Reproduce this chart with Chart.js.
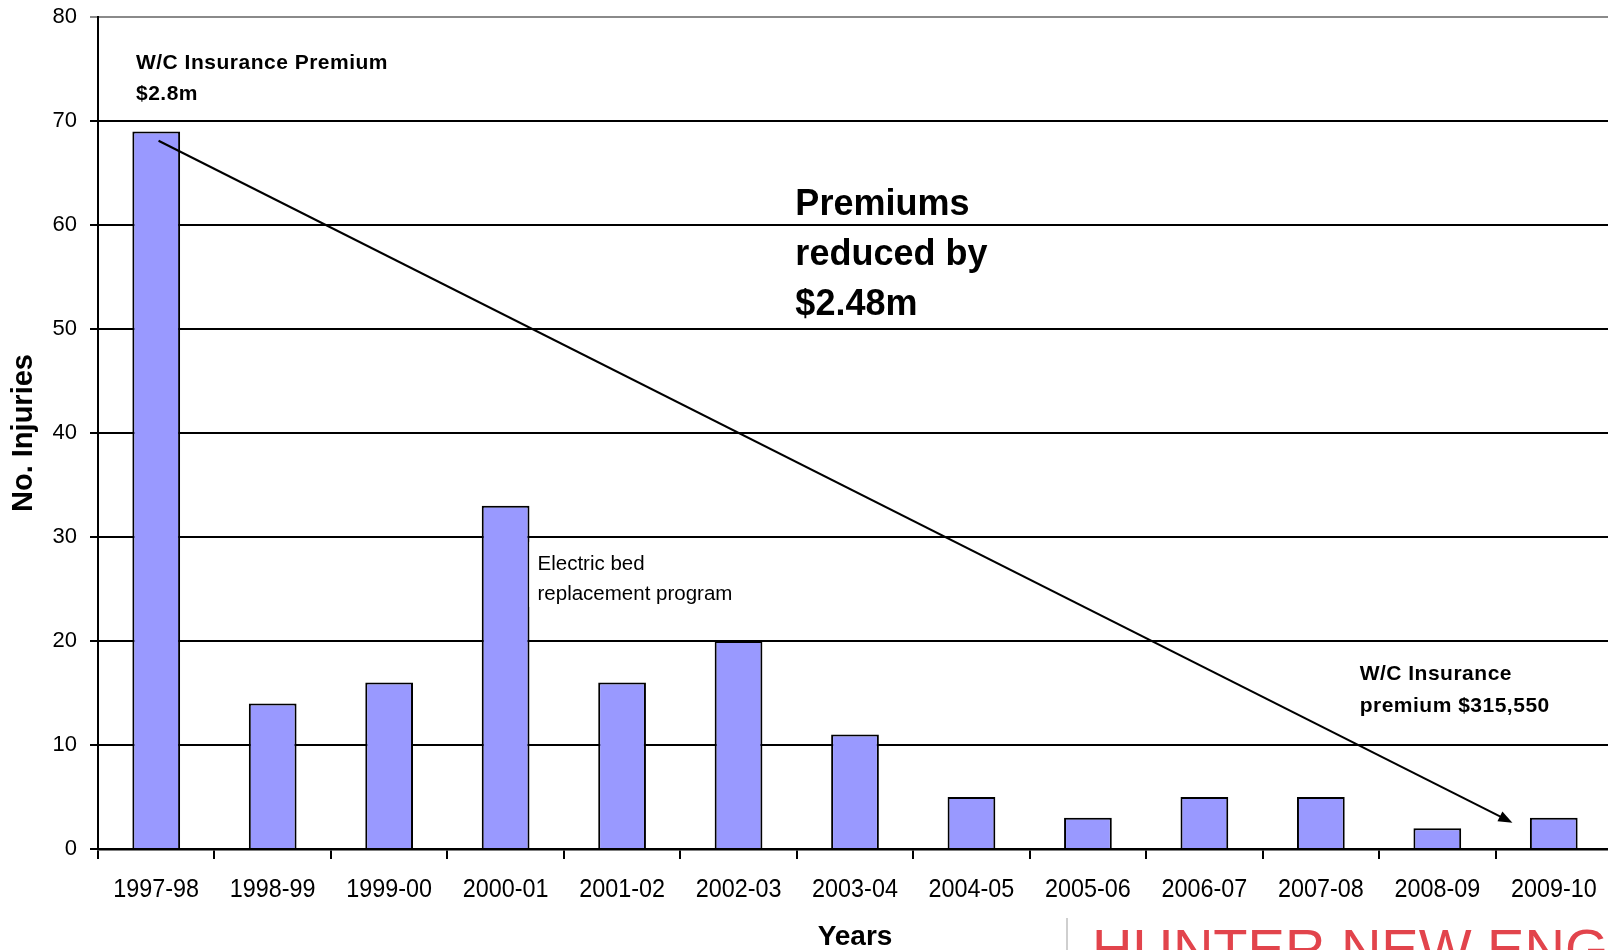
<!DOCTYPE html>
<html><head><meta charset="utf-8">
<script src="https://cdn.jsdelivr.net/npm/chart.js@4.4.1/dist/chart.umd.min.js"></script>
<style>
html,body{margin:0;padding:0;overflow:hidden;background:#fff;width:1608px;height:950px;}
#wrap{position:absolute;left:0;top:0;width:1612px;height:950px;}
#logo{position:absolute;left:1092px;top:921px;font:56px/56px "Liberation Sans",Arial,sans-serif;color:#e2444c;white-space:nowrap;}
#logoBar{position:absolute;left:1066px;top:918px;width:2px;height:40px;background:#cfcfcf;}
</style></head><body>
<div id="wrap"><canvas id="c"></canvas></div>
<div id="logoBar"></div><div id="logo">HUNTER NEW ENGLAND</div>
<script>
// ---- data ----
const years = ["1997-98","1998-99","1999-00","2000-01","2001-02","2002-03","2003-04","2004-05","2005-06","2006-07","2007-08","2008-09","2009-10"];
const injuries = [69,14,16,33,16,20,11,5,3,5,5,2,3];
const yMin = 0, yMax = 80, yStep = 10;
const xTitle = "Years";
const yTitle = "No. Injuries";
const noteStart = ["W/C Insurance Premium", "$2.8m"];
const noteMiddle = ["Premiums", "reduced by", "$2.48m"];
const noteBed = ["Electric bed", "replacement program"];
const noteEnd = ["W/C Insurance", "premium $315,550"];
// arrow endpoints in data units: [category index, value]
const arrowFrom = [0.02, 68.1];
const arrowTo = [11.645, 2.53];

// ---- styling / layout ----
const FAM = '"Liberation Sans", Arial, sans-serif';

const notes = [
  {lines: noteStart, x: -0.174, y: 75.0, font: 'bold 21px ' + FAM, ls: '0.5px', lh: 31},
  {lines: noteMiddle, x: 5.488, y: 60.96, font: 'bold 36px ' + FAM, ls: '0px', lh: 50},
  {lines: noteBed, x: 3.274, y: 26.83, font: '20.5px ' + FAM, ls: '0px', lh: 30, bg: true},
  {lines: noteEnd, x: 10.333, y: 16.25, font: 'bold 21px ' + FAM, ls: '0.5px', lh: 32}
];

const annot = {
  id: 'annot',
  afterDatasetsDraw(chart){
    const ctx = chart.ctx, xs = chart.scales.x, ys = chart.scales.y;
    ctx.save();
    // arrow
    const x1 = xs.getPixelForValue(arrowFrom[0]), y1 = ys.getPixelForValue(arrowFrom[1]);
    const x2 = xs.getPixelForValue(arrowTo[0]), y2 = ys.getPixelForValue(arrowTo[1]);
    const ang = Math.atan2(y2 - y1, x2 - x1), hl = 14, hw = 5.5;
    ctx.strokeStyle = '#000'; ctx.lineWidth = 2;
    ctx.beginPath(); ctx.moveTo(x1, y1);
    ctx.lineTo(x2 - Math.cos(ang) * hl * 0.8, y2 - Math.sin(ang) * hl * 0.8); ctx.stroke();
    ctx.fillStyle = '#000';
    ctx.beginPath(); ctx.moveTo(x2, y2);
    ctx.lineTo(x2 - Math.cos(ang) * hl - Math.sin(ang) * hw, y2 - Math.sin(ang) * hl + Math.cos(ang) * hw);
    ctx.lineTo(x2 - Math.cos(ang) * hl + Math.sin(ang) * hw, y2 - Math.sin(ang) * hl - Math.cos(ang) * hw);
    ctx.closePath(); ctx.fill();
    // notes
    notes.forEach(n => {
      const px = xs.getPixelForValue(n.x), py = ys.getPixelForValue(n.y);
      ctx.font = n.font; ctx.letterSpacing = n.ls;
      ctx.textAlign = 'left'; ctx.textBaseline = 'alphabetic';
      if (n.bg) {
        const w = Math.max(...n.lines.map(l => ctx.measureText(l).width));
        ctx.fillStyle = '#fff';
        ctx.fillRect(px - 8, py - 28, w + 16, (n.lines.length - 1) * n.lh + 35);
      }
      ctx.fillStyle = '#000';
      n.lines.forEach((l, i) => ctx.fillText(l, px, py + i * n.lh));
    });
    ctx.letterSpacing = '0px';
    // category labels (slightly condensed like the original)
    ctx.font = '25px ' + FAM; ctx.textAlign = 'center'; ctx.textBaseline = 'alphabetic';
    ctx.fillStyle = '#000';
    years.forEach((lab, i) => {
      const cx = xs.getPixelForTick(i);
      ctx.save(); ctx.translate(cx, xs.top + 48); ctx.scale(0.935, 1);
      ctx.fillText(lab, 0, 0); ctx.restore();
    });
    ctx.restore();
  }
};

new Chart(document.getElementById('c'), {
  type: 'bar',
  data: {
    labels: years,
    datasets: [{
      data: injuries,
      backgroundColor: '#9999ff',
      borderColor: '#000',
      borderWidth: 2,
      categoryPercentage: 1,
      barPercentage: 0.41
    }]
  },
  options: {
    responsive: true, maintainAspectRatio: false, animation: false,
    layout: {padding: {top: 17, left: 0, right: 0, bottom: 0}},
    plugins: {legend: {display: false}, tooltip: {enabled: false}},
    scales: {
      x: {
        grid: {offset: true, drawOnChartArea: false, drawTicks: true, tickLength: 10, color: '#000', lineWidth: 2},
        border: {color: '#000', width: 2.5},
        ticks: {display: false, autoSkip: false},
        title: {display: true, text: xTitle, color: '#000', font: {family: FAM, size: 28, weight: 'bold', lineHeight: 1}, padding: {top: 0, bottom: -1}},
        afterFit(s){ s.height = 101; s.paddingLeft = 0; s.paddingRight = 0; }
      },
      y: {
        min: yMin, max: yMax,
        ticks: {stepSize: yStep, color: '#000', font: {family: FAM, size: 22}, padding: 13},
        grid: {color: c => (c.tick && c.tick.value === yMax) ? '#8a8a8a' : '#000', lineWidth: 2, tickLength: 8, drawTicks: true},
        border: {color: '#000', width: 2},
        title: {display: true, text: yTitle, color: '#000', font: {family: FAM, size: 29, weight: 'bold', lineHeight: 1.2}, padding: {top: 7, bottom: 0}},
        afterFit(s){ s.width = 98; s.paddingTop = 0; s.paddingBottom = 0; }
      }
    }
  },
  plugins: [annot]
});
</script>
</body></html>
